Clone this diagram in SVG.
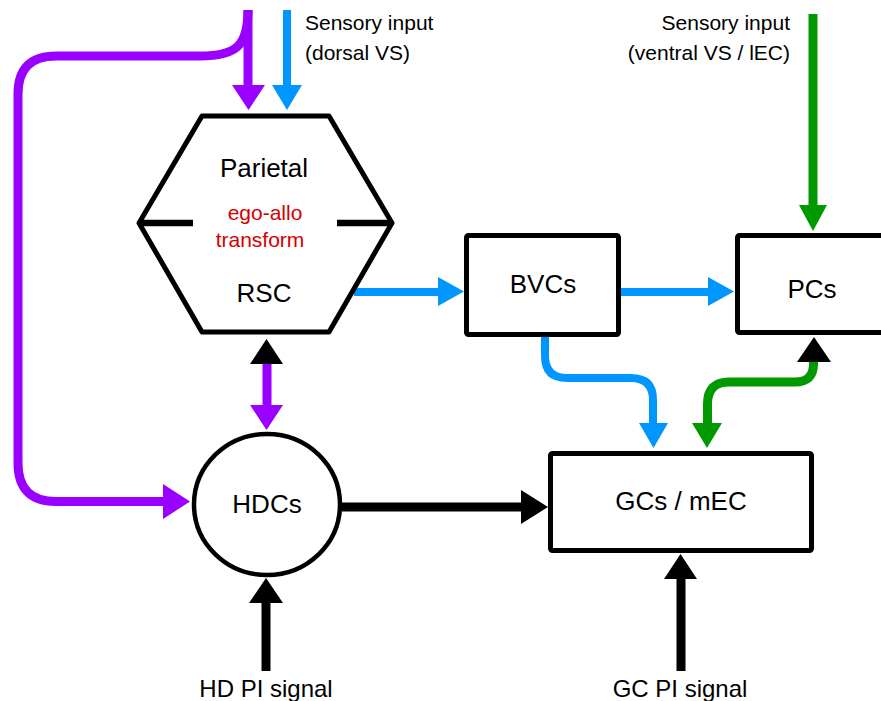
<svg xmlns="http://www.w3.org/2000/svg" width="881" height="701" viewBox="0 0 881 701">
<style>
text{font-family:"Liberation Sans",Arial,Helvetica,sans-serif;fill:#000}
.lbl{font-size:26px;text-anchor:middle}
.red{font-size:21px;text-anchor:middle;fill:#D40000}
.sm{font-size:21px}
.sig{font-size:24px;text-anchor:middle}
.box{fill:#fff;stroke:#000;stroke-width:5}
.ln{fill:none;stroke-linejoin:round}
.pu{stroke:#9900FF;stroke-width:9}
.bl{stroke:#0096FF;stroke-width:8}
.gr{stroke:#009900;stroke-width:9}
.bk{stroke:#000;stroke-width:9}
.fpu{fill:#9900FF}.fbl{fill:#0096FF}.fgr{fill:#009900}.fbk{fill:#000}
</style>
<rect width="881" height="701" fill="#fff"/>
<g id="connectors">
  <path class="ln pu" d="M248,10 L248,86"/>
  <polygon class="fpu" points="232,85 265,85 248.5,110"/>
  <path class="ln pu" d="M248,10 C248,46 236,56 200,56 L56,56 Q18,56 18,94 L18,463 Q18,501.5 56,501.5 L164,501.5"/>
  <polygon class="fpu" points="163,484 190,501.5 163,519"/>
  <path class="ln bl" d="M287,10 L287,86"/>
  <polygon class="fbl" points="272,85 302,85 287,110"/>
  <path class="ln gr" d="M813,14 L813,206"/>
  <polygon class="fgr" points="799,205 827,205 813,231"/>
  <path class="ln bl" d="M354,292 L440,292"/>
  <polygon class="fbl" points="438,277 464,291.5 438,306"/>
  <path class="ln bl" d="M621,292 L710,292"/>
  <polygon class="fbl" points="708,277 734,291.5 708,306"/>
  <path class="ln bl" d="M545,337 L545,356 Q545,378 567,378 L631,378 Q653,378 653,400 L653,425"/>
  <polygon class="fbl" points="639,423 668,423 653.5,448"/>
  <path class="ln gr" d="M813.5,360 L813.5,364 Q813.5,382 795,382 L729,382 Q707.5,382 707.5,404 L707.5,425"/>
  <polygon class="fbk" points="797,362 814,337 831,362"/>
  <polygon class="fgr" points="692,423 722,423 707,448"/>
  <path class="ln pu" d="M267,362 L267,407"/>
  <polygon class="fbk" points="250,364 283,364 266.5,339"/>
  <polygon class="fpu" points="250,405 283,405 266.5,430"/>
  <path class="ln bk" d="M342,507 L523,507"/>
  <polygon class="fbk" points="521,490 548,507 521,524"/>
  <path class="ln bk" d="M266,671 L266,601"/>
  <polygon class="fbk" points="249,603 283,603 266,578"/>
  <path class="ln bk" d="M681,671 L681,577"/>
  <polygon class="fbk" points="664,579 697,579 680.5,554"/>
</g>
<g id="parietal">
  <polygon points="202,116 329,116 392,223 329,332 202,332 139,223" fill="#fff" stroke="#000" stroke-width="5" stroke-linejoin="round"/>
  <path d="M139,223 L193,223 M337,223 L392,223" stroke="#000" stroke-width="6.5" fill="none"/>
  <text class="lbl" x="264" y="177">Parietal</text>
  <text class="red" x="265" y="220">ego-allo</text>
  <text class="red" x="260" y="247">transform</text>
  <text class="lbl" x="264" y="302">RSC</text>
</g>
<g id="bvcs">
  <rect class="box" x="466.5" y="235.5" width="152" height="99" rx="2"/>
  <text class="lbl" x="543" y="293">BVCs</text>
</g>
<g id="pcs">
  <rect class="box" x="737.5" y="235.5" width="200" height="97" rx="2"/>
  <text class="lbl" x="812" y="298">PCs</text>
</g>
<g id="hdcs">
  <ellipse cx="267" cy="504.5" rx="73" ry="70.5" fill="#fff" stroke="#000" stroke-width="4.5"/>
  <text class="lbl" x="267" y="513">HDCs</text>
</g>
<g id="gcs">
  <rect class="box" x="550.5" y="453.5" width="261" height="97" rx="2"/>
  <text class="lbl" x="681" y="510">GCs / mEC</text>
</g>
<g id="label-dorsal">
  <text class="sm" x="305" y="30">Sensory input</text>
  <text class="sm" x="305" y="60">(dorsal VS)</text>
</g>
<g id="label-ventral">
  <text class="sm" x="790" y="30" text-anchor="end">Sensory input</text>
  <text class="sm" x="790" y="60" text-anchor="end">(ventral VS / lEC)</text>
</g>
<g id="label-hdpi">
  <text class="sig" x="266" y="697">HD PI signal</text>
</g>
<g id="label-gcpi">
  <text class="sig" x="680" y="697">GC PI signal</text>
</g>
</svg>
